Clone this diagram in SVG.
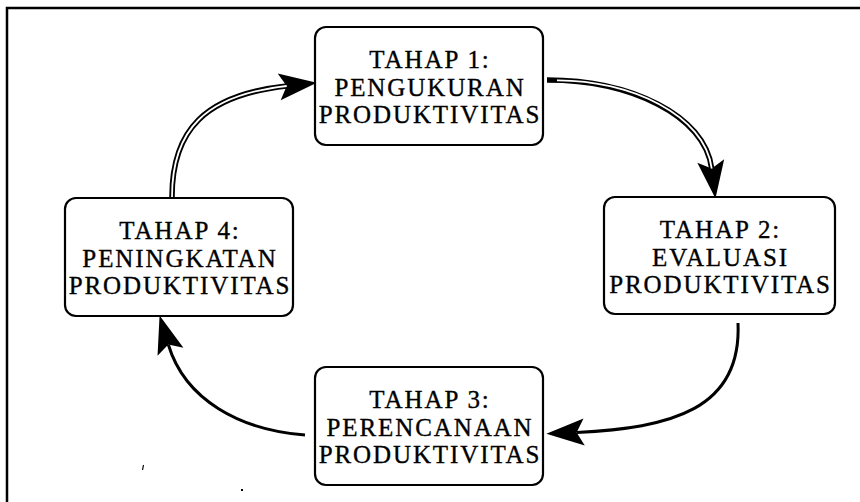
<svg xmlns="http://www.w3.org/2000/svg" width="860" height="502" viewBox="0 0 860 502">
  <style>
    .box { fill: #ffffff; stroke: #000000; stroke-width: 2.2; }
    .lbl { font-family: "Liberation Serif", "Times New Roman", serif; font-size: 25px; letter-spacing: 1.9px; fill: #000000; stroke: #000000; stroke-width: 0.35; text-anchor: middle; }
    .dbl-outer { fill: none; stroke: #000000; stroke-width: 5.5; }
    .dbl-inner { fill: none; stroke: #ffffff; stroke-width: 1.8; }
    .sgl { fill: none; stroke: #000000; stroke-width: 3; }
    .frame { fill: none; stroke: #000000; stroke-width: 2.5; }
  </style>
  <defs>
    <marker id="head" markerUnits="userSpaceOnUse" markerWidth="40" markerHeight="30" refX="0" refY="0" viewBox="-8 -13 37 26" orient="auto" overflow="visible">
      <path d="M28,0 L-7,-12.5 L0,0 L-7,12.5 Z" fill="#000000"/>
    </marker>
  </defs>

  <rect width="860" height="502" fill="#ffffff"/>
  <path class="frame" d="M7,502 L7,8 L860,8"/>

  <g id="connectors">
    <!-- 1 -> 2 (double line) -->
    <path class="dbl-outer" d="M547,80 C630,80 705,115 711.7,168.5" marker-end="url(#head)"/>
    <path class="dbl-inner" d="M557,80.3 C630,80 705,115 711.7,168.5"/>
    <!-- 2 -> 3 -->
    <path class="sgl" d="M738,323 C742,410 670,428 576.6,432.4" marker-end="url(#head)"/>
    <!-- 3 -> 4 -->
    <path class="sgl" d="M305,435 C240,430 185,400 168.3,344.5" marker-end="url(#head)"/>
    <!-- 4 -> 1 (double line) -->
    <path class="dbl-outer" d="M172,197 C172,130 205,95 286.7,86" marker-end="url(#head)"/>
    <path class="dbl-inner" d="M172,197 C172,130 205,95 286.7,86"/>
  </g>

  <g id="node1">
    <rect class="box" x="315" y="27" width="228" height="118" rx="11"/>
    <text class="lbl" x="430" y="68">TAHAP 1:</text>
    <text class="lbl" x="430" y="95.5">PENGUKURAN</text>
    <text class="lbl" x="430" y="123">PRODUKTIVITAS</text>
  </g>
  <g id="node2">
    <rect class="box" x="604" y="197" width="231" height="117" rx="11"/>
    <text class="lbl" x="720.5" y="238">TAHAP 2:</text>
    <text class="lbl" x="720.5" y="265.5">EVALUASI</text>
    <text class="lbl" x="720.5" y="293">PRODUKTIVITAS</text>
  </g>
  <g id="node3">
    <rect class="box" x="315" y="367" width="228" height="118" rx="11"/>
    <text class="lbl" x="430" y="408">TAHAP 3:</text>
    <text class="lbl" x="430" y="435.5">PERENCANAAN</text>
    <text class="lbl" x="430" y="463">PRODUKTIVITAS</text>
  </g>
  <g id="node4">
    <rect class="box" x="65" y="198" width="228" height="118" rx="11"/>
    <text class="lbl" x="180" y="239">TAHAP 4:</text>
    <text class="lbl" x="180" y="266.5">PENINGKATAN</text>
    <text class="lbl" x="180" y="294">PRODUKTIVITAS</text>
  </g>

  <path d="M143.5,465 L142.5,470" stroke="#000000" stroke-width="1.2"/>
  <rect x="241" y="489" width="2" height="2" fill="#000000"/>
</svg>
